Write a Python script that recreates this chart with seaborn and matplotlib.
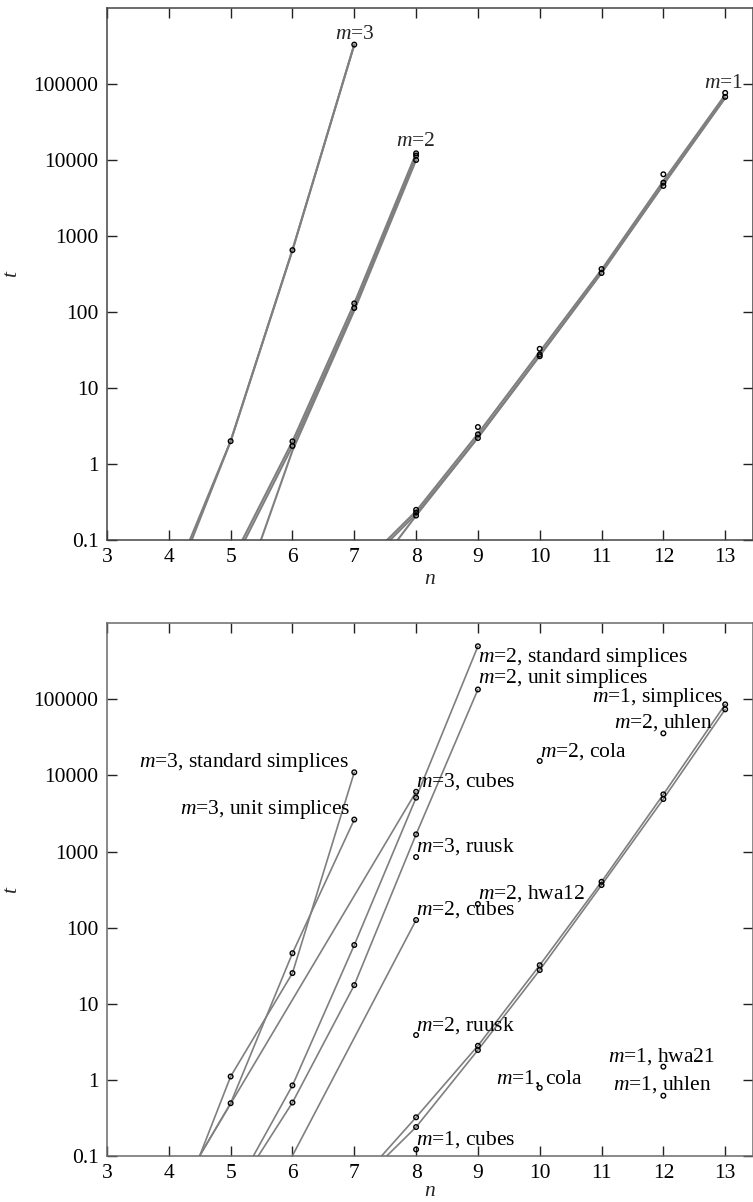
import numpy as np
import pandas as pd
import matplotlib
matplotlib.use("Agg")
import matplotlib.pyplot as plt
import seaborn as sns
from matplotlib.ticker import FixedLocator, FixedFormatter, NullLocator

# ---------------- data: top panel ----------------
# fitted curves (vertices), one entry per curve
top_line_ids = ["m3a", "m3b", "m2a", "m2b", "m2c", "m1a", "m1b", "m1c"]
top_line_n = [
    [4.34, 5, 6, 7],
    [4.37, 5, 6, 7],
    [5.19, 6, 7, 8],
    [5.23, 6, 7, 8],
    [5.49, 6, 7, 8],
    [7.53, 8, 9, 10, 11, 12, 13],
    [7.58, 8, 9, 10, 11, 12, 13],
    [7.70, 8, 9, 10, 11, 12, 13],
]
top_line_t = [
    [0.1, 2.0, 653, 330000],
    [0.1, 2.0, 653, 330000],
    [0.1, 1.99, 130, 12250],
    [0.1, 1.73, 113, 11400],
    [0.1, 1.5, 105, 10000],
    [0.1, 0.24, 2.5, 30, 360, 5300, 72000],
    [0.1, 0.22, 2.25, 27, 330, 4800, 66000],
    [0.1, 0.21, 2.22, 26.5, 328, 4750, 66000],
]
# measured points
top_pts_n = [5, 6, 7,
             6, 6, 7, 7, 8, 8, 8,
             8, 8, 8, 9, 9, 9, 10, 10, 10, 11, 11, 12, 12, 12, 13, 13]
top_pts_t = [2.0, 653, 330000,
             1.99, 1.73, 130, 113, 12250, 11400, 10000,
             0.25, 0.23, 0.21, 3.07, 2.46, 2.2, 32.8, 27.6, 26.2, 368, 326,
             6490, 5040, 4560, 76400, 67700]
top_labels = ["$m$=3", "$m$=2", "$m$=1"]
top_label_n = [7.0, 8.0, 12.98]
top_label_t = [4.47e5, 17400, 1.01e5]

# ---------------- data: bottom panel ----------------
bot_line_ids = ["m3 std", "m3 unit", "m3 cubes", "m2 std", "m2 unit",
                "m2 cubes", "m1 simp a", "m1 simp b"]
bot_line_n = [
    [4.5, 5, 6, 7],
    [4.5, 5, 6, 7],
    [4.5, 8],
    [5.37, 6, 7, 8, 9],
    [5.45, 6, 7, 8, 9],
    [6.0, 8],
    [7.445, 8, 9, 10, 11, 12, 13],
    [7.53, 8, 9, 10, 11, 12, 13],
]
bot_line_t = [
    [0.1, 1.1, 25.2, 11000],
    [0.1, 0.49, 46, 2630],
    [0.1, 6100],
    [0.1, 0.84, 58.9, 5100, 500000],
    [0.1, 0.50, 17.5, 1680, 135000],
    [0.1, 125.6],
    [0.1, 0.32, 2.79, 32, 400, 5640, 86000],
    [0.1, 0.238, 2.45, 27.6, 362, 4900, 74000],
]
bot_pts_n = [5, 6, 7,
             5, 6, 7,
             8, 8,
             6, 7, 8, 9,
             6, 7, 8, 9,
             8, 8, 9, 10, 12,
             8, 8, 9, 9, 10, 10, 11, 11, 12, 12, 13, 13,
             8, 10, 12, 12]
bot_pts_t = [1.1, 25.2, 11000,
             0.49, 46, 2630,
             6100, 845,
             0.84, 58.9, 5100, 500000,
             0.50, 17.5, 1680, 135000,
             125.6, 3.86, 204, 15500, 35800,
             0.32, 0.238, 2.79, 2.45, 32, 27.6, 400, 362, 5640, 4900, 86000, 74000,
             0.121, 0.78, 1.48, 0.615]
bot_labels = ["$m$=2, standard simplices", "$m$=2, unit simplices",
              "$m$=1, simplices", "$m$=2, uhlen", "$m$=2, cola",
              "$m$=3, cubes", "$m$=3, ruusk", "$m$=2, hwa12", "$m$=2, cubes",
              "$m$=2, ruusk", "$m$=1, hwa21", "$m$=1, cola", "$m$=1, uhlen",
              "$m$=1, cubes", "$m$=3, standard simplices", "$m$=3, unit simplices"]
bot_label_n = [9.0, 9.0, 10.84, 11.20, 10.0, 8.0, 8.0, 9.0, 8.0, 8.0,
               11.11, 9.30, 11.19, 8.0, 3.52, 4.18]
bot_label_t = [3.6e5, 1.91e5, 1.06e5, 48900, 20500, 8430, 1156, 284, 175, 5.2,
               2.0, 1.04, 0.85, 0.164, 14900, 3615]

x_ticks = [3, 4, 5, 6, 7, 8, 9, 10, 11, 12, 13]
y_ticks = [0.1, 1, 10, 100, 1000, 10000, 100000]
y_ticklabels = ["0.1", "1", "10", "100", "1000", "10000", "100000"]

# ---------------- style ----------------
sns.set_theme(style="ticks")
plt.rcParams["font.family"] = ["Liberation Serif", "DejaVu Serif"]
plt.rcParams["mathtext.fontset"] = "custom"
plt.rcParams["mathtext.it"] = "Liberation Serif:italic"
plt.rcParams["mathtext.rm"] = "Liberation Serif"
FS = 15.5
LINE_COLOR = "#7f7f7f"

fig = plt.figure(figsize=(7.53, 12.02), dpi=100)
ax_top = fig.add_axes([0.1421, 0.5507, 1.0 - 0.1421, 0.99334 - 0.5507])
ax_bot = fig.add_axes([0.1421, 0.03852, 1.0 - 0.1421, 0.4814 - 0.03852])


def lines_frame(ids, ns, ts):
    rows = []
    for lid, nn, tt in zip(ids, ns, ts):
        for a, b in zip(nn, tt):
            rows.append((lid, a, b))
    return pd.DataFrame(rows, columns=["id", "n", "t"])


def draw(ax, ids, ns, ts, pn, pt, labels, ln, lt, spine_color, lw, xlab_y):
    ax.set_yscale("log")
    df = lines_frame(ids, ns, ts)
    sns.lineplot(data=df, x="n", y="t", units="id", estimator=None, sort=False,
                 color=LINE_COLOR, lw=lw, ax=ax, legend=False, zorder=2)
    pts = pd.DataFrame({"n": pn, "t": pt})
    sns.scatterplot(data=pts, x="n", y="t", ax=ax, marker="o", s=11,
                    facecolor="none", edgecolor="black", linewidth=1.0,
                    zorder=3, legend=False)
    for s, x, y in zip(labels, ln, lt):
        ax.text(x, y, s, ha="left", va="center", fontsize=FS, color="black", zorder=4)
    ax.set_xlim(3, 13.45)
    ax.set_ylim(0.1, 1e6)
    ax.xaxis.set_major_locator(FixedLocator(x_ticks))
    ax.yaxis.set_major_locator(FixedLocator(y_ticks))
    ax.yaxis.set_major_formatter(FixedFormatter(y_ticklabels))
    ax.yaxis.set_minor_locator(NullLocator())
    ax.xaxis.set_minor_locator(NullLocator())
    ax.tick_params(axis="both", which="major", direction="in", length=7.5,
                   width=1.0, color="#222222", top=True, right=True,
                   labelsize=FS, pad=6, labelcolor="black")
    for sp in ax.spines.values():
        sp.set_visible(True)
        sp.set_color(spine_color)
        sp.set_linewidth(1.1)
    ax.set_xlabel("$n$", fontsize=FS)
    ax.set_ylabel("$t$", fontsize=FS)
    ax.xaxis.set_label_coords(0.5, xlab_y)
    ax.yaxis.set_label_coords(-0.132, 0.5)
    ax.set_facecolor("white")


draw(ax_top, top_line_ids, top_line_n, top_line_t, top_pts_n, top_pts_t,
     [], [], [], "#444444", 1.5, -0.056)
for s, x, y in zip(top_labels, top_label_n, top_label_t):
    ax_top.text(x, y, s, ha="center", va="center", fontsize=FS, zorder=4)
draw(ax_bot, bot_line_ids, bot_line_n, bot_line_t, bot_pts_n, bot_pts_t,
     bot_labels, bot_label_n, bot_label_t, "#6a6a6a", 1.2, -0.049)

fig.savefig("out.png", dpi=100, facecolor="white")
